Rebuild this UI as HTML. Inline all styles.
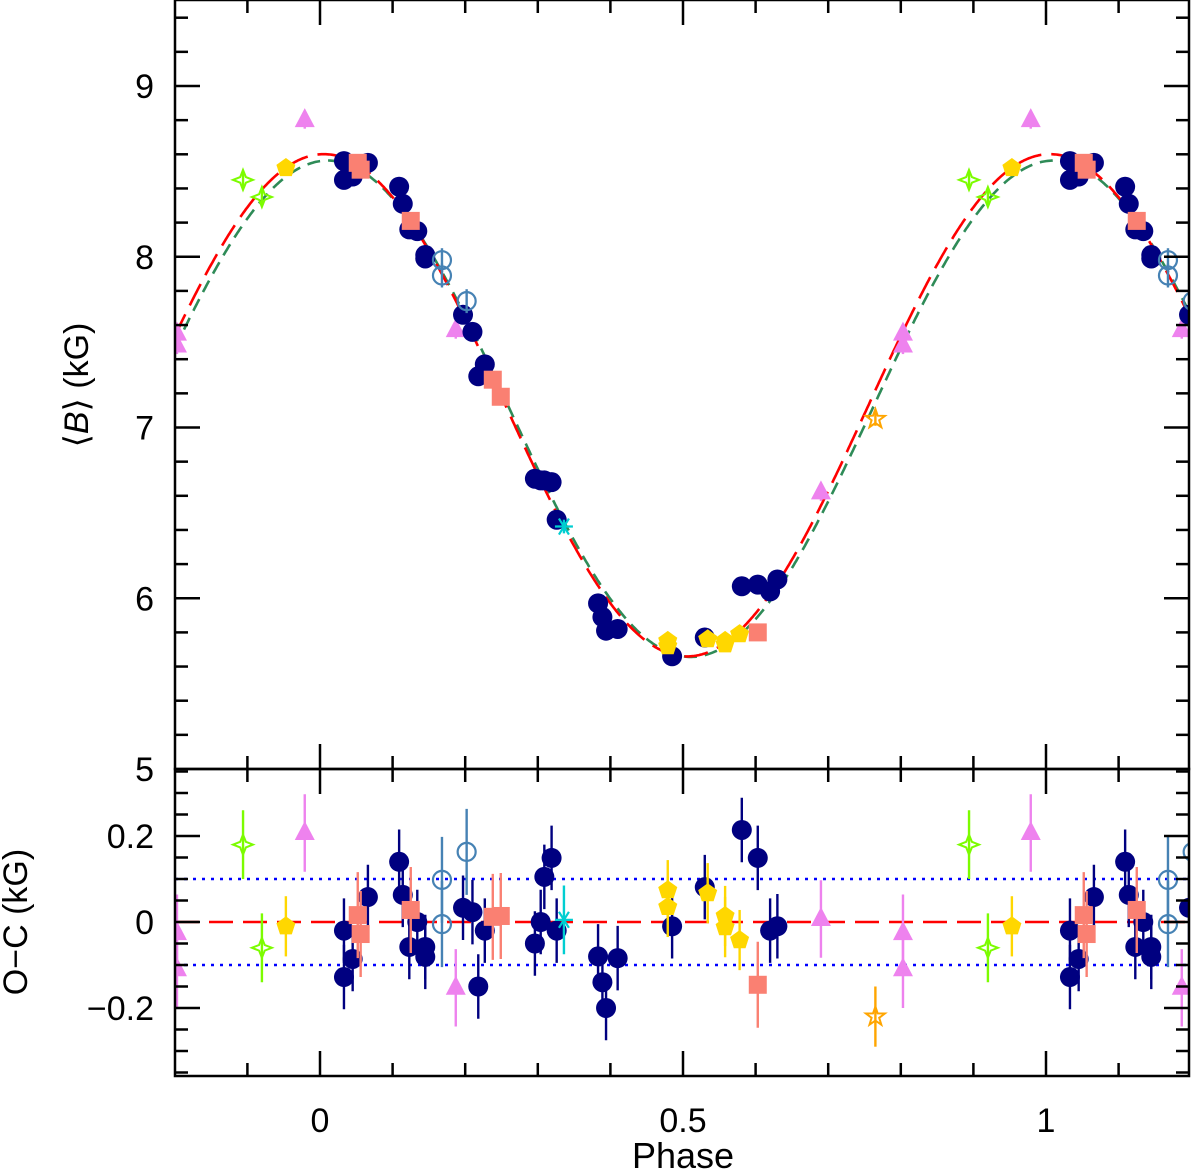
<!DOCTYPE html>
<html><head><meta charset="utf-8"><style>
html,body{margin:0;padding:0;background:#fff;}
svg{display:block;font-family:"Liberation Sans","DejaVu Sans",sans-serif;}
</style></head><body>
<svg id="chart" width="1200" height="1172" viewBox="0 0 1200 1172" xmlns="http://www.w3.org/2000/svg">
<defs>
<clipPath id="clipTop"><rect x="175" y="0" width="1014" height="769"/></clipPath>
<clipPath id="clipBot"><rect x="175" y="769" width="1014" height="307"/></clipPath>
</defs>
<g id="gTop" clip-path="url(#clipTop)"></g>
<g id="gBot" clip-path="url(#clipBot)"></g>
<g id="axes"></g>
<text x="88" y="385" font-size="34" text-anchor="middle" transform="rotate(-90 88 385)">⟨<tspan font-style="italic">B</tspan>⟩ (kG)</text>
<text x="27" y="922" font-size="34" text-anchor="middle" transform="rotate(-90 27 922)">O−C (kG)</text>
<text x="683" y="1168" font-size="36" text-anchor="middle">Phase</text>
</svg>
<script>
// ---- data ----
const navyPhase = [0.033,0.033,0.045,0.066,0.109,0.114,0.134,0.123,0.145,0.145,0.197,0.210,0.227,0.218,0.296,0.304,0.309,0.319,0.326,0.383,0.389,0.394,0.410,0.485,0.530,0.581,0.603,0.620,0.630];
const navyB     = [8.56,8.45,8.47,8.55,8.41,8.31,8.15,8.16,8.01,7.99,7.66,7.56,7.37,7.30,6.70,6.69,6.69,6.68,6.46,5.97,5.89,5.81,5.82,5.66,5.77,6.07,6.08,6.04,6.11];
const navyRes   = [-0.02,-0.128,-0.086,0.058,0.14,0.063,0.0,-0.058,-0.058,-0.081,0.033,0.023,-0.02,-0.15,-0.05,0.0,0.105,0.149,-0.02,-0.08,-0.14,-0.2,-0.084,-0.01,0.081,0.214,0.149,-0.02,-0.01];
const sqPhase = [0.052,0.056,0.125,0.238,0.249,0.603];
const sqB     = [8.55,8.51,8.21,7.28,7.18,5.80];
const sqRes   = [0.016,-0.028,0.028,0.012,0.014,-0.146];
const ocPhase = [0.168,0.168,0.202];
const ocB     = [7.98,7.89,7.74];
const ocRes   = [0.098,-0.005,0.163];
const cyPhase = [0.336];
const cyB     = [6.42];
const cyRes   = [0.005];
const pnPhase = [-0.047,0.479,0.479,0.534,0.558,0.558,0.578];
const pnB     = [8.52,5.75,5.72,5.76,5.75,5.73,5.79];
const pnRes   = [-0.01,0.074,0.035,0.067,0.014,-0.012,-0.042];
const gsPhase = [-0.106,-0.08];
const gsB     = [8.45,8.35];
const gsRes   = [0.18,-0.06];
const trPhase = [-0.197,-0.197,-0.021,0.187,0.69];
const trB     = [7.55,7.48,8.80,7.57,6.62];
const trRes   = [-0.026,-0.11,0.207,-0.153,0.007];
const osPhase = [0.765];
const osB     = [7.05];
const osRes   = [-0.22];
const fitRed   = [7.13,1.47,0.05];
const fitGreen = [7.11,1.45,0.10];
const xTicks = [0,0.5,1];
const yTicksTop = [5,6,7,8,9];
const yTicksBot = [-0.2,0,0.2];
const yTickLabelsBot = ["−0.2","0","0.2"];

// ---- scales ----
const X0=175,X1=1189;
const sx=p=>320+(p)*726;
const syT=b=>86+(9-b)*170.75;
const syB=r=>922-r*430;
const NS="http://www.w3.org/2000/svg";
function mk(tag,attrs,parent){const e=document.createElementNS(NS,tag);for(const k in attrs)e.setAttribute(k,attrs[k]);parent.appendChild(e);return e;}
const gT=document.getElementById('gTop'),gB=document.getElementById('gBot'),ax=document.getElementById('axes');

function fit(c,p){const a=2*Math.PI*p;return c[0]+c[1]*Math.cos(a)+c[2]*Math.sin(a);}
function curve(c,color,dash,name){let d='';for(let i=0;i<=700;i++){const p=-0.2+1.4*i/700;d+=(i?'L':'M')+sx(p).toFixed(1)+' '+syT(fit(c,p)).toFixed(1);}
const e=mk('path',{d:d,fill:'none',stroke:color,'stroke-width':2.6,'stroke-dasharray':dash},gT);

}
curve(fitGreen,'#2e8b57','13 8','fit-curve-green');
curve(fitRed,'#ff0000','24 10','fit-curve-red');

let l=mk('line',{x1:X0,x2:X1,y1:syB(0.1),y2:syB(0.1),stroke:'#0000ff','stroke-width':2.4,'stroke-dasharray':'3 6'},gB);


l=mk('line',{x1:X0,x2:X1,y1:syB(-0.1),y2:syB(-0.1),stroke:'#0000ff','stroke-width':2.4,'stroke-dasharray':'3 6'},gB);


l=mk('line',{x1:X0,x2:X1,y1:syB(0),y2:syB(0),stroke:'#ff0000','stroke-width':2.6,'stroke-dasharray':'24 10'},gB);



function marker(g,type,x,y,color){
  let e;
  if(type==='circle') e=mk('circle',{cx:x,cy:y,r:10,fill:color},g);
  else if(type==='ocircle') e=mk('circle',{cx:x,cy:y,r:9,fill:'none',stroke:color,'stroke-width':2.2},g);
  else if(type==='square') e=mk('rect',{x:x-9,y:y-9,width:18,height:18,fill:color},g);
  else if(type==='triangle') e=mk('polygon',{points:`${x},${y-12} ${x+10},${y+7} ${x-10},${y+7}`,fill:color},g);
  else if(type==='pentagon'){let pts=[];for(let i=0;i<5;i++){const a=-Math.PI/2+i*2*Math.PI/5;pts.push((x+10*Math.cos(a)).toFixed(1)+','+(y+10*Math.sin(a)).toFixed(1));}e=mk('polygon',{points:pts.join(' '),fill:color},g);}
  else if(type==='star4'){let pts=[];for(let i=0;i<8;i++){const a=-Math.PI/2+i*Math.PI/4;const r=i%2?4:10;pts.push((x+r*Math.cos(a)).toFixed(1)+','+(y+r*Math.sin(a)).toFixed(1));}e=mk('polygon',{points:pts.join(' '),fill:'none',stroke:color,'stroke-width':2},g);}
  else if(type==='star5'){let pts=[];for(let i=0;i<10;i++){const a=-Math.PI/2+i*Math.PI/5;const r=i%2?4:10;pts.push((x+r*Math.cos(a)).toFixed(1)+','+(y+r*Math.sin(a)).toFixed(1));}e=mk('polygon',{points:pts.join(' '),fill:'none',stroke:color,'stroke-width':2},g);}
  else if(type==='asterisk'){e=mk('path',{d:`M${x-9} ${y}H${x+9}M${x-5} ${y-8}L${x+5} ${y+8}M${x+5} ${y-8}L${x-5} ${y+8}`,stroke:color,'stroke-width':2.2},g);}
  return e;
}
function series(name,type,color,ph,bv,rs,errT,errB){
  for(let i=0;i<ph.length;i++){
    for(const sh of [-1,0,1]){
      const p=ph[i]+sh; if(p<-0.21||p>1.21) continue;
      const x=sx(p);
      const yt=syT(bv[i]);
      const et=mk('line',{x1:x,x2:x,y1:syT(bv[i]+errT),y2:syT(bv[i]-errT),stroke:color,'stroke-width':2.4},gT);
      
      
      const mt=marker(gT,type,x,yt,color);
      
      
      const yb=syB(rs[i]);
      const eb=mk('line',{x1:x,x2:x,y1:syB(rs[i]+errB),y2:syB(rs[i]-errB),stroke:color,'stroke-width':2.4},gB);
      
      
      const mb=marker(gB,type,x,yb,color);
      
      
    }
  }
}
series('green-star','star4','#7cfc00',gsPhase,gsB,gsRes,0.05,0.08);
series('orange-star','star5','#ffa500',osPhase,osB,osRes,0.04,0.07);
series('violet-triangle','triangle','#ee82ee',trPhase,trB,trRes,0.05,0.09);
series('navy-circle','circle','#000080',navyPhase,navyB,navyRes,0.05,0.075);
series('steelblue-open-circle','ocircle','#4682b4',ocPhase,ocB,ocRes,0.07,0.1);
series('salmon-square','square','#fa8072',sqPhase,sqB,sqRes,0.05,0.1);
series('gold-pentagon','pentagon','#ffd700',pnPhase,pnB,pnRes,0.04,0.07);
series('cyan-asterisk','asterisk','#00ced1',cyPhase,cyB,cyRes,0.04,0.08);

let f=mk('rect',{x:X0,y:0,width:X1-X0,height:769,fill:'none',stroke:'#000','stroke-width':2.5},ax);


f=mk('rect',{x:X0,y:769,width:X1-X0,height:307,fill:'none',stroke:'#000','stroke-width':2.5},ax);


function tk(x1,y1,x2,y2){mk('line',{x1,y1,x2,y2,stroke:'#000','stroke-width':2.5},ax);}
for(let k=-2;k<=12;k++){const p=k/10,x=sx(p);if(x<X0+1||x>X1-1)continue;const maj=(k%5===0);const L=maj?25:13;
  tk(x,0,x,L);tk(x,769,x,769-L);tk(x,769,x,769+L);tk(x,1076,x,1076-L);}
for(const p of xTicks){const t=mk('text',{x:sx(p),y:1132,'font-size':34,'text-anchor':'middle'},ax);t.textContent=String(p);
  
  }
for(let k=25;k<=47;k++){const b=k/5,y=syT(b);if(y<1||y>768)continue;const maj=(k%5===0);const L=maj?25:13;tk(X0,y,X0+L,y);tk(X1,y,X1-L,y);}
for(const b of yTicksTop){const t=mk('text',{x:154,y:syT(b)+12,'font-size':34,'text-anchor':'end'},ax);t.textContent=String(b);
  
  }
for(let k=-7;k<=7;k++){const r=k*0.05,y=syB(r);if(y<770||y>1075)continue;const maj=(k%4===0);const L=maj?25:13;tk(X0,y,X0+L,y);tk(X1,y,X1-L,y);}
yTicksBot.forEach((r,i)=>{const t=mk('text',{x:154,y:syB(r)+12,'font-size':34,'text-anchor':'end'},ax);t.textContent=yTickLabelsBot[i];
  
  });
</script>
</body></html>
